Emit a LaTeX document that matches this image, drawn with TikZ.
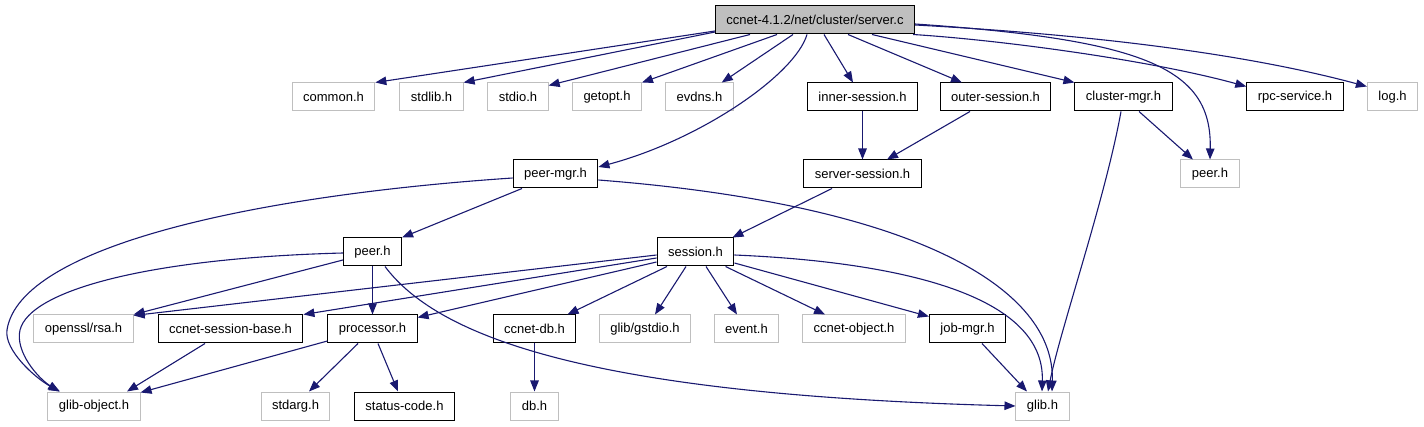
\documentclass[tikz,border=0pt]{standalone}
\usepackage{fontspec}
\setmainfont{Liberation Sans}
\usetikzlibrary{arrows.meta}
\definecolor{edgeblue}{RGB}{25,25,112}
\definecolor{boxgray}{RGB}{191,191,191}

\begin{document}
\begin{tikzpicture}[
    x=1pt, y=-1pt,
    file/.style={rectangle,draw=black,line width=1pt,minimum height=28pt,inner xsep=11pt,inner ysep=0pt,font=\fontsize{13}{15}\selectfont},
    extfile/.style={file,draw=boxgray},
    rootfile/.style={file,fill=boxgray},
    arrow/.style={-{Triangle[length=11pt,width=8.5pt]},edgeblue,line width=1.1pt}
]
\useasboundingbox (0,0) rectangle (1424,427);

\node[rootfile] (server) at (815,20) {ccnet-4.1.2/net/cluster/server.c};

\node[extfile] (common) at (333.5,97) {common.h};
\node[extfile] (stdlib) at (431.5,97) {stdlib.h};
\node[extfile] (stdio) at (518,97) {stdio.h};
\node[extfile] (getopt) at (607,97) {getopt.h};
\node[extfile] (evdns) at (699.5,97) {evdns.h};
\node[file] (inner) at (862.5,97) {inner-session.h};
\node[file] (outer) at (995.5,97) {outer-session.h};
\node[file] (clustermgr) at (1123.5,97) {cluster-mgr.h};
\node[file] (rpc) at (1295,97) {rpc-service.h};
\node[extfile] (log) at (1392.5,97) {log.h};

\node[file] (peermgr) at (555.5,174) {peer-mgr.h};
\node[file] (serversess) at (862.5,174) {server-session.h};
\node[extfile] (peerR) at (1210,174) {peer.h};

\node[file] (peerL) at (372.5,252) {peer.h};
\node[file] (session) at (695.5,252) {session.h};

\node[extfile] (rsa) at (83.5,329) {openssl/rsa.h};
\node[file] (csb) at (230.5,329) {ccnet-session-base.h};
\node[file] (processor) at (372.5,329) {processor.h};
\node[file] (ccnetdb) at (534.5,329) {ccnet-db.h};
\node[extfile] (gstdio) at (645,329) {glib/gstdio.h};
\node[extfile] (event) at (746.5,329) {event.h};
\node[extfile] (cobject) at (854,329) {ccnet-object.h};
\node[file] (jobmgr) at (967.5,329) {job-mgr.h};

\node[extfile] (globject) at (94,406) {glib-object.h};
\node[extfile] (stdarg) at (295.5,406) {stdarg.h};
\node[file] (status) at (404.5,406) {status-code.h};
\node[extfile] (db) at (534.5,406) {db.h};
\node[extfile] (glib) at (1042.5,406) {glib.h};

\draw[arrow] ([yshift=-11]server.west) -- (common.north east);
\draw[arrow] ([yshift=-12]server.west) -- (stdlib.north east);
\draw[arrow] ([xshift=-65]server.south) -- ([yshift=-3]stdio.north east);
\draw[arrow] ([xshift=-38]server.south) -- (getopt.north east);
\draw[arrow] ([xshift=-22]server.south) -- ([xshift=-12]evdns.north east);
\draw[arrow] ([xshift=-8]server.south) .. controls (795,75) and (700,140) .. ([yshift=7]peermgr.east);
\draw[arrow] ([xshift=9]server.south) -- ([xshift=-9.5]inner.north);
\draw[arrow] ([xshift=33]server.south) -- ([xshift=-33.5]outer.north);
\draw[arrow] ([xshift=57]server.south) -- (clustermgr.north west);
\draw[arrow] ([xshift=-2]server.south east) .. controls (1000,40) and (1150,60) .. ([yshift=-4]rpc.north west);
\draw[arrow] ([yshift=-4]server.east) .. controls (1150,40) and (1212,70) .. (peerR.north);
\draw[arrow] ([yshift=-5]server.east) .. controls (1100,35) and (1250,55) .. ([yshift=-4]log.north west);

\draw[arrow] (inner) -- (serversess);
\draw[arrow] ([xshift=-25.5]outer.south) -- ([xshift=24.5]serversess.north);
\draw[arrow] ([xshift=15.5]clustermgr.south) -- ([xshift=-17]peerR.north);
\draw[arrow] ([xshift=-2.5]clustermgr.south) .. controls (1105,200) and (1060,330) .. ([xshift=5.5]glib.north);

\draw[arrow] ([xshift=-33.5]peermgr.south) -- (peerL.north east);
\draw[arrow] ([yshift=-4]peermgr.west) .. controls (260,195) and (20,245) .. (7,330) .. controls (4,350) and (35,378) .. ([xshift=-34]globject.north);
\draw[arrow] ([yshift=-6]peermgr.east) .. controls (920,205) and (1055,290) .. ([xshift=9.5]glib.north);
\draw[arrow] ([xshift=-30.5]serversess.south) -- ([xshift=-2]session.north east);

\draw[arrow] ([yshift=-8]peerL.west) -- (rsa.north east);
\draw[arrow] (peerL) -- (processor);
\draw[arrow] ([yshift=-1]peerL.west) .. controls (150,258) and (30,290) .. (20,330) .. controls (15,352) and (38,378) .. ([xshift=-35]globject.north);
\draw[arrow] ([xshift=12.5]peerL.south) .. controls (440,340) and (600,395) .. (glib.west);

\draw[arrow] ([yshift=-3]session.west) -- ([yshift=-1]rsa.north east);
\draw[arrow] ([yshift=-6]session.west) -- (csb.north east);
\draw[arrow] ([yshift=-10]session.west) -- ([yshift=-3]processor.north east);
\draw[arrow] ([xshift=-28.5]session.south) -- ([xshift=33]ccnetdb.north);
\draw[arrow] ([xshift=-9.5]session.south) -- ([xshift=10]gstdio.north);
\draw[arrow] ([xshift=10.5]session.south) -- ([xshift=-9.5]event.north);
\draw[arrow] ([xshift=30]session.south) -- ([xshift=-29]cobject.north);
\draw[arrow] ([yshift=-11]session.east) -- ([yshift=-2]jobmgr.north west);
\draw[arrow] ([yshift=-3]session.east) .. controls (900,262) and (1045,295) .. ([xshift=-0.5]glib.north);

\draw[arrow] ([xshift=-25.5]csb.south) -- ([xshift=33]globject.north);
\draw[arrow] ([yshift=-12]processor.west) -- ([yshift=-1]globject.north east);
\draw[arrow] ([xshift=-14.5]processor.south) -- ([xshift=13.5]stdarg.north);
\draw[arrow] ([xshift=5.5]processor.south) -- ([xshift=-6.5]status.north);
\draw[arrow] (ccnetdb) -- (db);
\draw[arrow] ([xshift=14.5]jobmgr.south) -- ([xshift=-15.5]glib.north);
\end{tikzpicture}
\end{document}
